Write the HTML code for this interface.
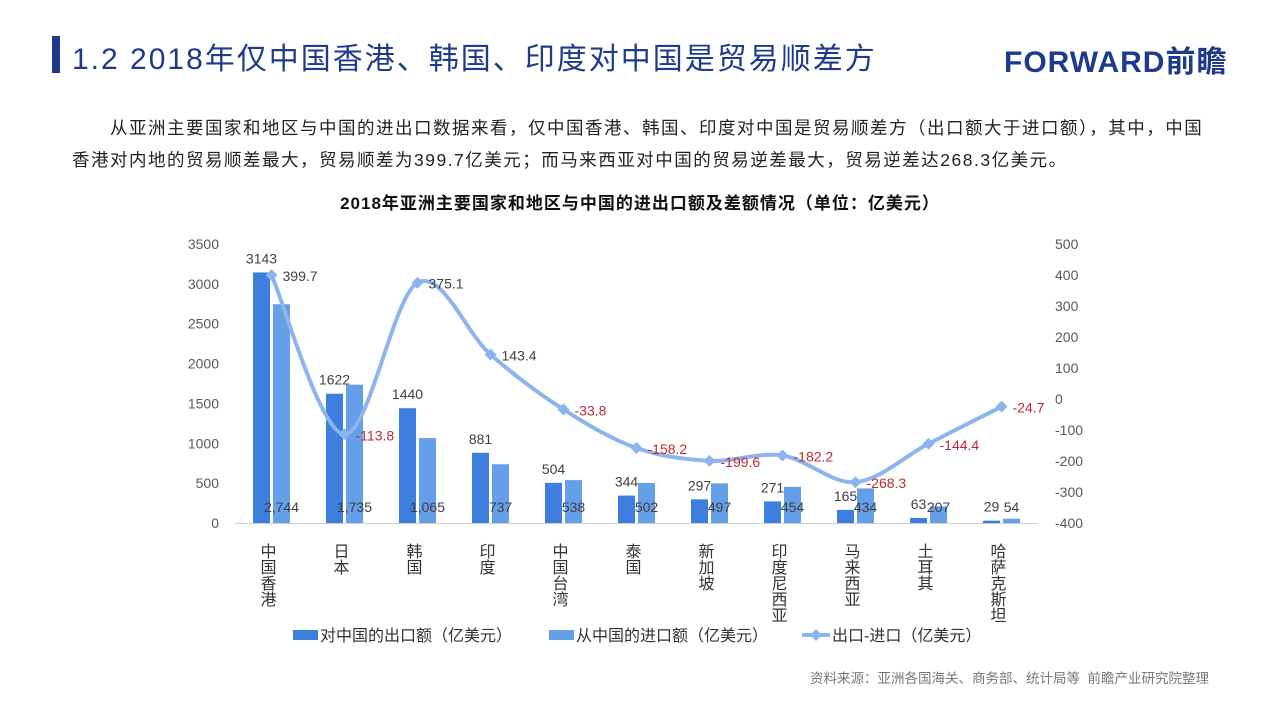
<!DOCTYPE html>
<html><head><meta charset="utf-8"><style>
html,body{margin:0;padding:0;background:#fff;}
body{width:1280px;height:705px;position:relative;overflow:hidden;font-family:"Liberation Sans","Noto Sans CJK SC",sans-serif;}
.bar{position:absolute;left:52px;top:36px;width:8px;height:37px;background:#1f3a8a;}
.title{position:absolute;left:72px;top:34px;font-size:30px;color:#1f3a8a;letter-spacing:2px;white-space:nowrap;}
.logo{position:absolute;left:1004px;top:37px;font-size:30px;font-weight:bold;color:#1f3a8a;letter-spacing:1px;white-space:nowrap;}
.p{position:absolute;left:72px;top:112px;font-size:17.5px;color:#222;line-height:32px;white-space:nowrap;letter-spacing:1.5px;}
.ct{position:absolute;left:0;width:1280px;top:189px;text-align:center;font-size:17px;font-weight:bold;color:#111;letter-spacing:1px;}
.src{position:absolute;left:810px;top:667px;font-size:13.5px;color:#777;white-space:nowrap;}
svg{position:absolute;left:0;top:0;}
</style></head><body>
<div class="bar"></div>
<div class="title">1.2 2018年仅中国香港、韩国、印度对中国是贸易顺差方</div>
<div class="logo">FORWARD前瞻</div>
<div class="p">&emsp;&emsp;从亚洲主要国家和地区与中国的进出口数据来看，仅中国香港、韩国、印度对中国是贸易顺差方（出口额大于进口额），其中，中国<br>香港对内地的贸易顺差最大，贸易顺差为399.7亿美元；而马来西亚对中国的贸易逆差最大，贸易逆差达268.3亿美元。</div>
<div class="ct">2018年亚洲主要国家和地区与中国的进出口额及差额情况（单位：亿美元）</div>
<div class="src">资料来源：亚洲各国海关、商务部、统计局等&nbsp;&nbsp;前瞻产业研究院整理</div>
<svg id="s" width="1280" height="705" xmlns="http://www.w3.org/2000/svg" font-family="Liberation Sans, Noto Sans CJK SC, sans-serif"></svg>
<script>
var names=["中国香港","日本","韩国","印度","中国台湾","泰国","新加坡","印度尼西亚","马来西亚","土耳其","哈萨克斯坦"];
var ex=[3143,1622,1440,881,504,344,297,271,165,63,29];
var im=[2744,1735,1065,737,538,502,497,454,434,207,54];
var df=[399.7,-113.8,375.1,143.4,-33.8,-158.2,-199.6,-182.2,-268.3,-144.4,-24.7];
var imL=["2,744","1,735","1,065","737","538","502","497","454","434","207","54"];
function yl(v){return 523-v*279/3500;}
function yr(v){return 399-v*0.31;}
var h='';
h+='<line x1="235" y1="523.5" x2="1038" y2="523.5" stroke="#d0d0d0" stroke-width="1"/>';
for(var i=0;i<=7;i++){var v=i*500;h+='<text x="219" y="'+(yl(v)+5)+'" font-size="14" fill="#595959" text-anchor="end">'+v+'</text>';}
for(var v=500;v>=-400;v-=100){h+='<text x="1055" y="'+(yr(v)+5)+'" font-size="14" fill="#595959">'+v+'</text>';}
var pts=[];
for(var i=0;i<11;i++){
 var c=271.5+73*i;
 var ye=yl(ex[i]),yi=yl(im[i]);
 h+='<rect x="'+(c-18.5)+'" y="'+ye+'" width="17" height="'+(523-ye)+'" fill="#3d7ede"/>';
 h+='<rect x="'+(c+1.5)+'" y="'+yi+'" width="17" height="'+(523-yi)+'" fill="#659ee9"/>';
 h+='<text x="'+(c-10)+'" y="'+(ye-9)+'" font-size="14" fill="#404040" text-anchor="middle">'+ex[i]+'</text>';
 h+='<text x="'+(c+10)+'" y="512" font-size="14" fill="#404040" text-anchor="middle">'+imL[i]+'</text>';
 pts.push([c,yr(df[i])]);
 for(var k=0;k<names[i].length;k++){h+='<text x="'+(c-3)+'" y="'+(557+k*16)+'" font-size="16" fill="#333" text-anchor="middle">'+names[i][k]+'</text>';}
}
var d='M'+pts[0][0]+','+pts[0][1];
for(var i=0;i<10;i++){
 var p0=pts[Math.max(i-1,0)],p1=pts[i],p2=pts[i+1],p3=pts[Math.min(i+2,10)];
 var t=6;
 d+=' C'+(p1[0]+(p2[0]-p0[0])/t)+','+(p1[1]+(p2[1]-p0[1])/t)+' '+(p2[0]-(p3[0]-p1[0])/t)+','+(p2[1]-(p3[1]-p1[1])/t)+' '+p2[0]+','+p2[1];
}
h+='<path d="'+d+'" fill="none" stroke="#8db4ec" stroke-width="4" stroke-linecap="round"/>';
for(var i=0;i<11;i++){
 var x=pts[i][0],y=pts[i][1];
 h+='<path d="M'+x+','+(y-6)+' L'+(x+6)+','+y+' L'+x+','+(y+6)+' L'+(x-6)+','+y+'Z" fill="#8db4ec"/>';
 h+='<text x="'+(x+11)+'" y="'+(y+6)+'" font-size="14" fill="'+(df[i]<0?"#c0292f":"#404040")+'">'+df[i]+'</text>';
}
h+='<rect x="293" y="630" width="25" height="10" fill="#3d7ede"/><text x="320" y="641" font-size="16" fill="#333">对中国的出口额（亿美元）</text>';
h+='<rect x="549" y="630" width="25" height="10" fill="#659ee9"/><text x="576" y="641" font-size="16" fill="#333">从中国的进口额（亿美元）</text>';
h+='<line x1="802" y1="635" x2="830" y2="635" stroke="#8db4ec" stroke-width="4"/><path d="M816,629 L822,635 L816,641 L810,635Z" fill="#8db4ec"/><text x="832" y="641" font-size="16" fill="#333">出口-进口（亿美元）</text>';
document.getElementById('s').innerHTML=h;
</script>
</body></html>
